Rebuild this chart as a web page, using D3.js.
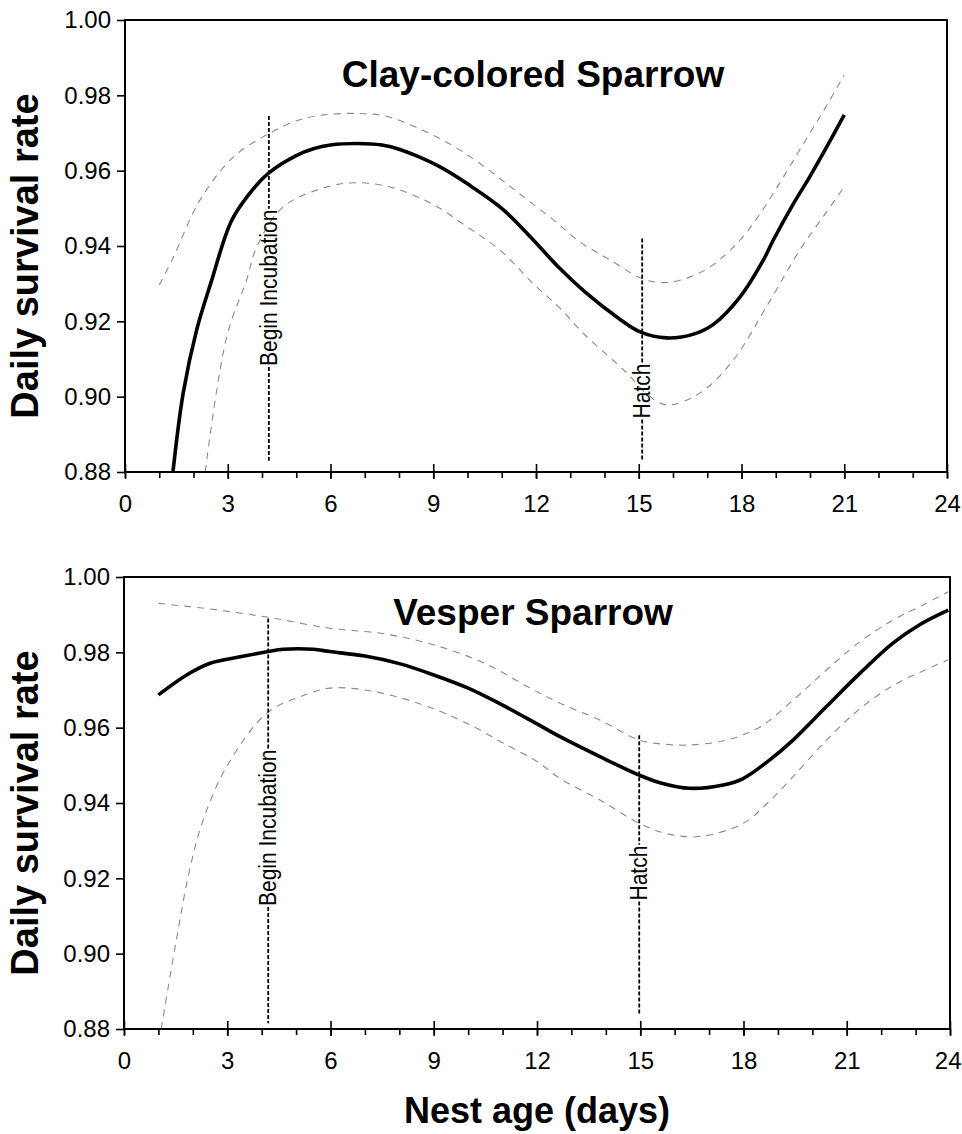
<!DOCTYPE html>
<html lang="en">
<head>
<meta charset="UTF-8" />
<title>Daily survival rate by nest age</title>
<script src="https://d3js.org/d3.v7.min.js"></script>
<style>
  body { margin: 0; background: #fff; }
  svg { display: block; font-family: "Liberation Sans", Arial, sans-serif; }
  .frame { fill: none; stroke: #000; stroke-width: 2; }
  .axis path { display: none; }
  .axis line { stroke: #000; stroke-width: 1.6; }
  .axis text { font-size: 24px; fill: #000; }
  .mean { fill: none; stroke: #000; stroke-width: 3.6; stroke-linejoin: round; }
  .ci { fill: none; stroke: #8a8a8a; stroke-width: 1.1; stroke-dasharray: 7 6; }
  .marker { stroke: #000; stroke-width: 1.8; stroke-dasharray: 4 2; }
  .marker-label { font-size: 21px; fill: #000; }
  .title { font-size: 37px; font-weight: bold; fill: #000; }
  .ylabel { font-size: 38px; font-weight: bold; fill: #000; }
  .xlabel { font-size: 36px; font-weight: bold; fill: #000; }
</style>
</head>
<body>
<div id="chart"></div>

<script>
  // nest age (days) / daily survival rate
  const ageTicks = d3.range(0, 25, 3);
  const rateTicks = [0.88, 0.90, 0.92, 0.94, 0.96, 0.98, 1.00];

  // Clay-colored Sparrow
  const clayMean = [[1.4,0.880],[1.7,0.901],[2.1,0.918],[2.5,0.930],[3.1,0.9465],[3.6,0.9535],[4.2,0.9594],
    [5.0,0.9640],[5.5,0.9658],[6.0,0.9668],[6.8,0.9672],[7.5,0.9668],[8.0,0.9657],[8.5,0.9640],[9.2,0.9610],
    [10.0,0.9565],[11.0,0.9500],[11.92,0.9416],[12.7,0.9340],[13.48,0.9274],[14.35,0.9212],[15.04,0.9172],
    [15.81,0.9156],[16.6,0.9166],[17.18,0.9192],[17.96,0.9265],[18.64,0.9363],[18.93,0.9416],[19.5,0.9510],
    [20.0,0.9585],[20.5,0.9665],[21.0,0.9748]];
  const clayUpper = [[1.0,0.9296],[1.4,0.9368],[2.19,0.9522],[3.16,0.9636],[4.23,0.9700],[5.1,0.9735],
    [5.8,0.9748],[6.8,0.9752],[7.6,0.9745],[8.5,0.9715],[9.5,0.9670],[10.5,0.9610],[11.5,0.9540],
    [12.5,0.9470],[13.28,0.9411],[14.16,0.9363],[15.13,0.9312],[15.81,0.9303],[16.5,0.9318],[17.17,0.9350],
    [17.96,0.9416],[18.5,0.9480],[19.0,0.9550],[19.5,0.9625],[20.0,0.9700],[20.5,0.9775],[21.0,0.9854]];
  const clayLower = [[2.34,0.880],[2.97,0.9159],[3.55,0.9310],[3.85,0.9398],[4.62,0.9504],[5.9,0.9557],
    [6.8,0.9568],[7.8,0.9555],[9.0,0.9510],[10.0,0.9450],[10.95,0.9389],[11.92,0.9300],[12.7,0.9235],
    [13.37,0.9169],[14.65,0.9063],[15.2,0.9010],[15.81,0.8978],[16.79,0.9010],[17.76,0.9097],[18.73,0.9239],
    [19.7,0.9389],[20.4,0.9480],[21.0,0.9557]];

  // Vesper Sparrow
  const vesperMean = [[1.0,0.9687],[1.82,0.9740],[2.5,0.9771],[3.37,0.9788],[4.19,0.9802],[4.63,0.9808],
    [5.5,0.9808],[5.98,0.9802],[7.0,0.9790],[8.0,0.9770],[9.0,0.9740],[10.0,0.9705],[11.0,0.9660],
    [12.0,0.9610],[12.67,0.9576],[13.83,0.9523],[14.97,0.9474],[15.57,0.9454],[16.44,0.9439],[17.41,0.9448],
    [17.99,0.9465],[18.7,0.9510],[19.44,0.9567],[20.41,0.9656],[21.38,0.9744],[22.35,0.9825],[23.13,0.9874],
    [23.95,0.9912]];
  const vesperUpper = [[1.0,0.9930],[2.5,0.9915],[4.19,0.9893],[5.98,0.9864],[7.5,0.9850],[9.0,0.9820],
    [10.5,0.9770],[11.7,0.9710],[12.67,0.9665],[13.83,0.9620],[14.97,0.9567],[15.7,0.9556],[16.44,0.9554],
    [17.51,0.9567],[18.48,0.9602],[19.44,0.9673],[20.41,0.9753],[21.38,0.9828],[22.35,0.9886],[23.2,0.9925],
    [23.95,0.9961]];
  const vesperLower = [[1.08,0.880],[1.5,0.9025],[1.9,0.9220],[2.3,0.9355],[2.98,0.9496],[4.14,0.9638],
    [5.11,0.9682],[5.98,0.9705],[7.0,0.9700],[8.0,0.9680],[9.0,0.9650],[10.0,0.9610],[11.0,0.9560],
    [12.0,0.9510],[12.67,0.9465],[13.83,0.9408],[14.97,0.9346],[15.8,0.9318],[16.73,0.9311],[17.99,0.9346],
    [18.7,0.9400],[19.44,0.9470],[20.41,0.9567],[21.38,0.9650],[22.35,0.9712],[23.2,0.9750],[23.95,0.9780]];

  // stage markers: age, rate range of the line, rate at the label centre
  const clayMarkers = [
    { label: "Begin Incubation", age: 4.2, from: 0.9745, to: 0.883, at: 0.9289 },
    { label: "Hatch", age: 15.1, from: 0.942, to: 0.883, at: 0.9015 }
  ];
  const vesperMarkers = [
    { label: "Begin Incubation", age: 4.19, from: 0.989, to: 0.8815, at: 0.9334 },
    { label: "Hatch", age: 14.97, from: 0.958, to: 0.884, at: 0.9214 }
  ];

  const panels = [
    { title: "Clay-colored Sparrow", mean: clayMean, upper: clayUpper, lower: clayLower,
      markers: clayMarkers, box: { left: 125, right: 947, top: 20, bottom: 472 }, titleY: 87 },
    { title: "Vesper Sparrow", mean: vesperMean, upper: vesperUpper, lower: vesperLower,
      markers: vesperMarkers, box: { left: 124, right: 950, top: 577, bottom: 1029 }, titleY: 625 }
  ];

  const W = 962, H = 1134;
  const svg = d3.select("#chart").append("svg")
    .attr("width", W)
    .attr("height", H);

  svg.append("rect").attr("width", W).attr("height", H).attr("fill", "#fff");

  panels.forEach((p, i) => {
    const b = p.box;
    const x = d3.scaleLinear().domain([0, 24]).range([b.left, b.right]);
    const y = d3.scaleLinear().domain([0.88, 1.00]).range([b.bottom, b.top]);
    const g = svg.append("g");

    const clipId = "clip" + i;
    g.append("clipPath").attr("id", clipId)
      .append("rect")
      .attr("x", b.left).attr("y", b.top)
      .attr("width", b.right - b.left).attr("height", b.bottom - b.top);

    const line = d3.line()
      .x(d => x(d[0]))
      .y(d => y(d[1]))
      .curve(d3.curveCatmullRom.alpha(0.5));

    // confidence limits
    [p.upper, p.lower].forEach(s => {
      g.append("path").datum(s).attr("class", "ci")
        .attr("clip-path", `url(#${clipId})`)
        .attr("d", line);
    });

    // stage markers (dashed line broken around the label)
    p.markers.forEach(m => {
      const mx = x(m.age);
      const cy = y(m.at);
      const txt = g.append("text")
        .attr("class", "marker-label")
        .attr("transform", `translate(${mx},${cy}) rotate(-90) scale(1,1.15)`)
        .attr("text-anchor", "middle")
        .attr("dominant-baseline", "central")
        .text(m.label);
      const half = txt.node().getComputedTextLength() / 2 + 1;
      g.append("line").attr("class", "marker")
        .attr("x1", mx).attr("x2", mx)
        .attr("y1", y(m.from)).attr("y2", cy - half);
      g.append("line").attr("class", "marker")
        .attr("x1", mx).attr("x2", mx)
        .attr("y1", cy + half).attr("y2", y(m.to));
    });

    // fitted daily survival
    g.append("path").datum(p.mean).attr("class", "mean")
      .attr("clip-path", `url(#${clipId})`)
      .attr("d", line);

    // axes
    g.append("g").attr("class", "axis")
      .attr("transform", `translate(${b.left},0)`)
      .call(d3.axisLeft(y).tickValues(rateTicks).tickFormat(d3.format(".2f")).tickSize(8).tickPadding(6));

    g.append("g").attr("class", "axis")
      .attr("transform", `translate(0,${b.bottom})`)
      .call(d3.axisBottom(x).tickValues(d3.range(0, 25)).tickFormat("").tickSize(6));

    const xa = g.append("g").attr("class", "axis")
      .attr("transform", `translate(0,${b.bottom})`)
      .call(d3.axisBottom(x).tickValues(ageTicks).tickFormat(d3.format("d")).tickSize(7).tickPadding(16));
    xa.selectAll(".tick line").attr("y1", -8);
    // keep the last label inside the page
    xa.selectAll(".tick text").filter(d => d === 24 && x(24) + 14 > W)
      .attr("text-anchor", "end").attr("x", W - 1 - x(24));

    g.append("rect").attr("class", "frame")
      .attr("x", b.left).attr("y", b.top)
      .attr("width", b.right - b.left).attr("height", b.bottom - b.top);

    // panel title
    g.append("text").attr("class", "title")
      .attr("x", 533).attr("y", p.titleY)
      .attr("text-anchor", "middle")
      .text(p.title);

    // y axis label
    g.append("text").attr("class", "ylabel")
      .attr("transform", `translate(38,${(b.top + b.bottom) / 2 + 10}) rotate(-90)`)
      .attr("text-anchor", "middle")
      .text("Daily survival rate");
  });

  svg.append("text").attr("class", "xlabel")
    .attr("x", 537).attr("y", 1123)
    .attr("text-anchor", "middle")
    .text("Nest age (days)");
</script>
</body>
</html>
